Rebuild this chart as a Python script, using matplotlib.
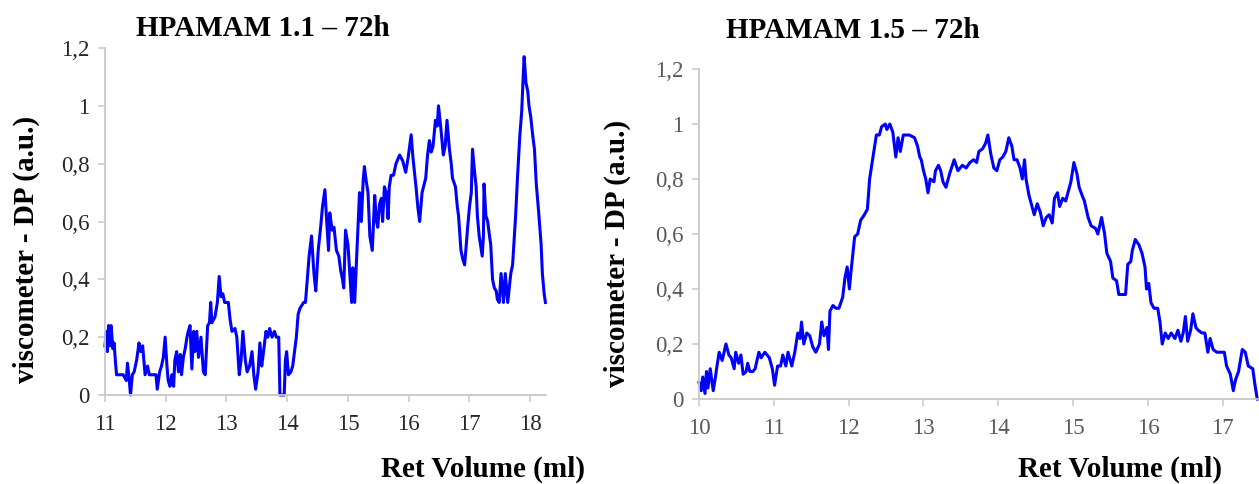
import matplotlib
matplotlib.use("Agg")
import matplotlib.pyplot as plt

# ------------------ DATA ------------------ #
# HPAMAM 1.1 - 72h
ret_11 = [11.00, 11.02, 11.04, 11.06, 11.08, 11.10, 11.13, 11.15, 11.17, 11.19,
          11.25, 11.30, 11.35, 11.37, 11.40, 11.42, 11.45, 11.48, 11.52, 11.56,
          11.59, 11.62, 11.66, 11.70, 11.73, 11.80, 11.84, 11.86, 11.90, 11.93,
          11.96, 11.99, 12.02, 12.04, 12.07, 12.10, 12.13, 12.15, 12.18, 12.21,
          12.24, 12.26, 12.29, 12.32, 12.35, 12.37, 12.40, 12.43, 12.46, 12.48,
          12.51, 12.54, 12.58, 12.62, 12.65, 12.69, 12.72, 12.74, 12.76, 12.81,
          12.85, 12.88, 12.91, 12.94, 12.97, 13.03, 13.06, 13.09, 13.14, 13.17,
          13.21, 13.24, 13.27, 13.31, 13.34, 13.38, 13.42, 13.45, 13.48, 13.52,
          13.55, 13.58, 13.61, 13.65, 13.68, 13.71, 13.75, 13.79, 13.82, 13.86,
          13.88, 13.91, 13.95, 13.97, 13.99, 14.02, 14.06, 14.09, 14.12, 14.15,
          14.18, 14.21, 14.27, 14.30, 14.33, 14.36, 14.40, 14.44, 14.47, 14.51,
          14.55, 14.58, 14.62, 14.65, 14.68, 14.70, 14.74, 14.77, 14.81, 14.85,
          14.88, 14.91, 14.93, 14.96, 15.00, 15.03, 15.06, 15.08, 15.11, 15.14,
          15.16, 15.19, 15.22, 15.25, 15.27, 15.30, 15.33, 15.36, 15.40, 15.44,
          15.47, 15.49, 15.52, 15.55, 15.57, 15.60, 15.63, 15.66, 15.68, 15.71,
          15.75, 15.79, 15.85, 15.90, 15.95, 15.99, 16.04, 16.07, 16.09, 16.12,
          16.15, 16.18, 16.22, 16.28, 16.31, 16.34, 16.37, 16.40, 16.44, 16.47,
          16.49, 16.53, 16.57, 16.60, 16.63, 16.67, 16.70, 16.72, 16.77, 16.80,
          16.82, 16.86, 16.89, 16.92, 16.94, 16.97, 17.00, 17.03, 17.05, 17.08,
          17.11, 17.13, 17.16, 17.21, 17.23, 17.24, 17.27, 17.30, 17.33, 17.35,
          17.38, 17.41, 17.44, 17.46, 17.49, 17.52, 17.55, 17.56, 17.59, 17.63,
          17.65, 17.68, 17.71, 17.74, 17.76, 17.79, 17.83, 17.86, 17.88, 17.90,
          17.93, 17.96, 17.98, 18.01, 18.04, 18.07, 18.10, 18.14, 18.18, 18.20,
          18.23, 18.25]
dp_11 = [0.17, 0.22, 0.15, 0.24, 0.17, 0.24, 0.16, 0.18, 0.12, 0.07,
         0.07, 0.07, 0.05, 0.11, 0.05, 0.00, 0.07, 0.08, 0.12, 0.18,
         0.15, 0.17, 0.07, 0.10, 0.07, 0.07, 0.07, 0.02, 0.08, 0.10,
         0.13, 0.20, 0.10, 0.05, 0.03, 0.07, 0.03, 0.12, 0.15, 0.08,
         0.14, 0.07, 0.13, 0.16, 0.20, 0.22, 0.24, 0.09, 0.22, 0.15,
         0.22, 0.13, 0.20, 0.08, 0.07, 0.24, 0.25, 0.32, 0.25, 0.27,
         0.32, 0.41, 0.34, 0.35, 0.32, 0.32, 0.26, 0.22, 0.23, 0.20,
         0.07, 0.12, 0.22, 0.12, 0.08, 0.10, 0.15, 0.07, 0.02, 0.08,
         0.18, 0.10, 0.15, 0.22, 0.20, 0.23, 0.20, 0.22, 0.20, 0.20,
         0.00, 0.00, 0.00, 0.12, 0.15, 0.07, 0.08, 0.10, 0.15, 0.20,
         0.28, 0.30, 0.32, 0.32, 0.40, 0.48, 0.55, 0.42, 0.36, 0.50,
         0.58, 0.65, 0.71, 0.60, 0.50, 0.63, 0.57, 0.58, 0.50, 0.48,
         0.43, 0.40, 0.37, 0.57, 0.52, 0.42, 0.32, 0.44, 0.32, 0.46,
         0.55, 0.70, 0.60, 0.74, 0.79, 0.74, 0.70, 0.55, 0.50, 0.69,
         0.60, 0.58, 0.66, 0.68, 0.60, 0.72, 0.70, 0.61, 0.72, 0.76,
         0.76, 0.80, 0.83, 0.81, 0.77, 0.82, 0.90, 0.82, 0.78, 0.72,
         0.65, 0.60, 0.70, 0.75, 0.83, 0.88, 0.84, 0.86, 0.95, 0.93,
         1.00, 0.92, 0.83, 0.86, 0.95, 0.85, 0.80, 0.75, 0.72, 0.65,
         0.62, 0.50, 0.47, 0.45, 0.50, 0.58, 0.65, 0.70, 0.85, 0.78,
         0.72, 0.62, 0.55, 0.48, 0.55, 0.73, 0.62, 0.60, 0.55, 0.52,
         0.40, 0.37, 0.36, 0.33, 0.32, 0.42, 0.35, 0.32, 0.42, 0.32,
         0.36, 0.42, 0.45, 0.55, 0.62, 0.75, 0.90, 0.98, 1.08, 1.17,
         1.08, 1.05, 1.00, 0.96, 0.90, 0.85, 0.73, 0.63, 0.52, 0.42,
         0.35, 0.32]

# HPAMAM 1.5 - 72h
ret_15 = [10.00, 10.03, 10.05, 10.08, 10.10, 10.12, 10.15, 10.19, 10.22, 10.24,
          10.27, 10.31, 10.36, 10.40, 10.43, 10.47, 10.49, 10.53, 10.56, 10.59,
          10.63, 10.65, 10.68, 10.72, 10.75, 10.80, 10.83, 10.88, 10.94, 10.98,
          11.01, 11.05, 11.09, 11.12, 11.16, 11.19, 11.24, 11.28, 11.32, 11.35,
          11.37, 11.40, 11.44, 11.48, 11.52, 11.56, 11.61, 11.64, 11.67, 11.71,
          11.73, 11.75, 11.79, 11.83, 11.87, 11.92, 11.95, 11.98, 12.01, 12.03,
          12.08, 12.12, 12.16, 12.21, 12.25, 12.28, 12.32, 12.37, 12.41, 12.44,
          12.49, 12.51, 12.55, 12.59, 12.63, 12.66, 12.69, 12.73, 12.81, 12.88,
          12.92, 12.95, 12.97, 13.00, 13.03, 13.06, 13.09, 13.14, 13.16, 13.20,
          13.23, 13.26, 13.30, 13.35, 13.41, 13.46, 13.52, 13.57, 13.62, 13.67,
          13.71, 13.74, 13.79, 13.83, 13.86, 13.90, 13.94, 13.98, 14.02, 14.06,
          14.10, 14.14, 14.18, 14.21, 14.25, 14.29, 14.32, 14.35, 14.37, 14.41,
          14.45, 14.48, 14.52, 14.56, 14.60, 14.64, 14.68, 14.72, 14.75, 14.79,
          14.82, 14.86, 14.90, 14.93, 14.97, 15.01, 15.05, 15.08, 15.12, 15.15,
          15.20, 15.24, 15.30, 15.33, 15.38, 15.42, 15.45, 15.50, 15.53, 15.58,
          15.61, 15.66, 15.70, 15.73, 15.77, 15.79, 15.83, 15.88, 15.92, 15.96,
          15.98, 16.01, 16.04, 16.08, 16.13, 16.16, 16.19, 16.23, 16.27, 16.31,
          16.36, 16.40, 16.44, 16.47, 16.50, 16.53, 16.57, 16.60, 16.64, 16.67,
          16.72, 16.76, 16.80, 16.83, 16.87, 16.92, 16.98, 17.02, 17.05, 17.10,
          17.14, 17.17, 17.21, 17.26, 17.30, 17.34, 17.40, 17.43, 17.46]
dp_15 = [0.06, 0.03, 0.08, 0.02, 0.10, 0.04, 0.11, 0.03, 0.08, 0.12,
         0.17, 0.14, 0.20, 0.16, 0.15, 0.11, 0.17, 0.13, 0.16, 0.09,
         0.10, 0.13, 0.10, 0.10, 0.11, 0.17, 0.15, 0.17, 0.15, 0.11,
         0.05, 0.12, 0.12, 0.16, 0.12, 0.17, 0.12, 0.17, 0.24, 0.22,
         0.28, 0.20, 0.24, 0.23, 0.19, 0.17, 0.20, 0.28, 0.23, 0.26,
         0.18, 0.32, 0.34, 0.33, 0.33, 0.37, 0.44, 0.48, 0.40, 0.46,
         0.59, 0.60, 0.65, 0.67, 0.69, 0.80, 0.87, 0.96, 0.96, 0.99,
         1.00, 0.98, 1.00, 0.97, 0.88, 0.95, 0.90, 0.96, 0.96, 0.95,
         0.92, 0.88, 0.87, 0.83, 0.80, 0.75, 0.80, 0.79, 0.83, 0.85,
         0.83, 0.79, 0.77, 0.82, 0.87, 0.83, 0.85, 0.84, 0.86, 0.87,
         0.86, 0.90, 0.91, 0.93, 0.96, 0.89, 0.84, 0.83, 0.87, 0.88,
         0.90, 0.95, 0.92, 0.87, 0.87, 0.84, 0.80, 0.87, 0.80, 0.74,
         0.70, 0.67, 0.71, 0.68, 0.63, 0.66, 0.67, 0.64, 0.73, 0.75,
         0.70, 0.73, 0.72, 0.75, 0.79, 0.86, 0.82, 0.77, 0.74, 0.72,
         0.66, 0.63, 0.62, 0.60, 0.66, 0.60, 0.53, 0.50, 0.44, 0.43,
         0.38, 0.38, 0.38, 0.49, 0.50, 0.54, 0.58, 0.56, 0.53, 0.48,
         0.40, 0.42, 0.35, 0.33, 0.33, 0.28, 0.20, 0.24, 0.22, 0.24,
         0.22, 0.25, 0.21, 0.24, 0.30, 0.21, 0.25, 0.31, 0.26, 0.25,
         0.24, 0.24, 0.17, 0.22, 0.18, 0.17, 0.17, 0.17, 0.12, 0.09,
         0.03, 0.07, 0.10, 0.18, 0.17, 0.12, 0.11, 0.05, 0.00]

titles = ["HPAMAM 1.1 \u2013 72h", "HPAMAM 1.5 \u2013 72h"]
y_ticks = [0, 0.2, 0.4, 0.6, 0.8, 1.0, 1.2]
y_ticklabels = ["0", "0,2", "0,4", "0,6", "0,8", "1", "1,2"]
x_ticks_11 = [11, 12, 13, 14, 15, 16, 17, 18]
x_ticks_15 = [10, 11, 12, 13, 14, 15, 16, 17]
# ------------------------------------------ #

SERIF = ["Liberation Serif", "DejaVu Serif"]
W, H = 1259, 484
fig = plt.figure(figsize=(W / 100, H / 100), dpi=100)

# axes boxes in pixels: left, right, bottom(y=0), top(y=1.2)
boxes = [(105, 546, 395, 48), (699, 1258, 399, 69)]
series = [(ret_11, dp_11, x_ticks_11, (11, 18.26), "#262626"),
          (ret_15, dp_15, x_ticks_15, (10, 17.47), "#595959")]

for (l, r, b, t), (xs, ys, xt, xl, tc) in zip(boxes, series):
    ax = fig.add_axes([l / W, 1 - b / H, (r - l) / W, (b - t) / H])
    ax.plot(xs, ys, color="#0000ff", lw=2.2, clip_on=False)
    ax.set_xlim(*xl)
    ax.set_ylim(0, 1.2)
    ax.set_xticks(xt)
    ax.set_yticks(y_ticks)
    ax.set_yticklabels(y_ticklabels)
    for s in ("top", "right"):
        ax.spines[s].set_visible(False)
    for s in ("left", "bottom"):
        ax.spines[s].set_color("#c8c8c8")
        ax.spines[s].set_linewidth(1.3)
    ax.tick_params(length=5, width=1.1, color="#c8c8c8", labelcolor=tc,
                   labelsize=16.5)
    ax.tick_params(axis="x", pad=9)
    ax.tick_params(axis="y", pad=6)
    for lab in ax.get_xticklabels() + ax.get_yticklabels():
        lab.set_family(SERIF)

bold = dict(family=SERIF, weight="bold", fontsize=21, ha="center", va="center")
fig.text(263 / W, 1 - 28 / H, titles[0], **bold)
fig.text(853 / W, 1 - 30 / H, titles[1], **bold)
fig.text(26 / W, 1 - 249 / H, "viscometer - DP (a.u.)", rotation=90, **bold)
fig.text(617 / W, 1 - 253 / H, "viscometer - DP (a.u.)", rotation=90, **bold)
fig.text(483 / W, 1 - 469 / H, "Ret Volume (ml)", **bold)
fig.text(1120 / W, 1 - 469 / H, "Ret Volume (ml)", **bold)

fig.savefig("out.png", dpi=100)
